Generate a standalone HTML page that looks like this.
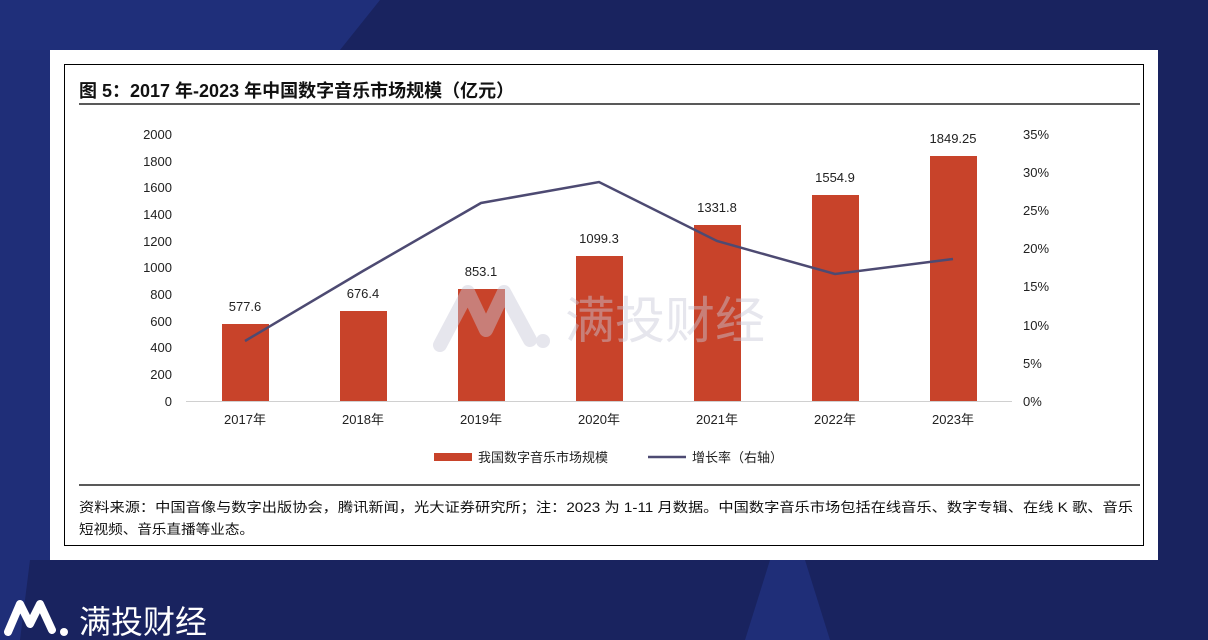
<!DOCTYPE html>
<html><head><meta charset="utf-8"><style>
body{margin:0;width:1208px;height:640px;overflow:hidden;background:#1b2561;font-family:"Liberation Sans","Noto Sans CJK SC",sans-serif;}
</style></head><body>
<svg width="1208" height="640" viewBox="0 0 1208 640" style="position:absolute;left:0;top:0">
<rect width="1208" height="640" fill="#19235f"/>
<polygon points="0,0 380,0 340,50 0,50" fill="#1f2f7a"/>
<polygon points="0,50 50,50 50,560 30,560 20,640 0,640" fill="#1f2e78"/>
<polygon points="770,560 805,560 830,640 745,640" fill="#1f2e78"/>
<rect x="50" y="50" width="1108" height="510" fill="#fff"/>
<rect x="64.5" y="64.5" width="1079" height="481" fill="none" stroke="#000" stroke-width="1"/>
<text x="79" y="97" font-size="18" font-weight="bold" fill="#111">图 5：2017 年-2023 年中国数字音乐市场规模（亿元）</text>
<line x1="79" y1="104" x2="1140" y2="104" stroke="#222" stroke-width="1.5"/>
<line x1="79" y1="485" x2="1140" y2="485" stroke="#222" stroke-width="1.5"/>
<text x="79" y="512" font-size="13.5" fill="#111" textLength="1054" lengthAdjust="spacingAndGlyphs">资料来源：中国音像与数字出版协会，腾讯新闻，光大证券研究所；注：2023 为 1-11 月数据。中国数字音乐市场包括在线音乐、数字专辑、在线 K 歌、音乐</text>
<text x="79" y="534" font-size="13.5" fill="#111" textLength="175" lengthAdjust="spacingAndGlyphs">短视频、音乐直播等业态。</text>
<g font-size="13" fill="#222" text-anchor="end">
<text x="172" y="406">0</text><text x="172" y="379">200</text><text x="172" y="352">400</text><text x="172" y="326">600</text><text x="172" y="299">800</text><text x="172" y="272">1000</text><text x="172" y="246">1200</text><text x="172" y="219">1400</text><text x="172" y="192">1600</text><text x="172" y="166">1800</text><text x="172" y="139">2000</text>
</g>
<g font-size="13" fill="#222" text-anchor="start">
<text x="1023" y="406">0%</text><text x="1023" y="368">5%</text><text x="1023" y="330">10%</text><text x="1023" y="291">15%</text><text x="1023" y="253">20%</text><text x="1023" y="215">25%</text><text x="1023" y="177">30%</text><text x="1023" y="139">35%</text>
</g>
<g fill="#c8432a">
<rect x="222" y="324" width="47" height="77"/>
<rect x="340" y="311" width="47" height="90"/>
<rect x="458" y="289" width="47" height="112"/>
<rect x="576" y="256" width="47" height="145"/>
<rect x="694" y="225" width="47" height="176"/>
<rect x="812" y="195" width="47" height="206"/>
<rect x="930" y="156" width="47" height="245"/>
</g>
<line x1="186" y1="401.5" x2="1012" y2="401.5" stroke="#d0d0d0" stroke-width="1"/>
<g font-size="13" fill="#222" text-anchor="middle">
<text x="245" y="311">577.6</text><text x="363" y="298">676.4</text><text x="481" y="276">853.1</text><text x="599" y="243">1099.3</text><text x="717" y="212">1331.8</text><text x="835" y="182">1554.9</text><text x="953" y="143">1849.25</text>
<text x="245" y="424">2017年</text><text x="363" y="424">2018年</text><text x="481" y="424">2019年</text><text x="599" y="424">2020年</text><text x="717" y="424">2021年</text><text x="835" y="424">2022年</text><text x="953" y="424">2023年</text>
</g>
<polyline points="245,341 363,271 481,203 599,182 717,241 835,274 953,259" fill="none" stroke="#4d4a72" stroke-width="2.5"/>
<g opacity="0.45">
<path d="M440,345 L468,292 L486,330 L504,292 L530,340" fill="none" stroke="#c8c8d8" stroke-width="14" stroke-linejoin="round" stroke-linecap="round"/>
<circle cx="543" cy="341" r="7" fill="#c8c8d8"/>
<text x="565" y="338" font-size="50" fill="#c8c8d8">满投财经</text>
</g>
<rect x="434" y="453" width="38" height="8" fill="#c8432a"/>
<text x="478" y="462" font-size="13" fill="#222">我国数字音乐市场规模</text>
<line x1="648" y1="457" x2="686" y2="457" stroke="#4d4a72" stroke-width="2.5"/>
<text x="692" y="462" font-size="13" fill="#222">增长率（右轴）</text>
<path d="M8,632 L20,604 L30,624 L40,604 L52,630" fill="none" stroke="#fff" stroke-width="8" stroke-linejoin="round" stroke-linecap="round"/>
<circle cx="64" cy="632" r="4" fill="#fff"/>
<text x="79" y="633" font-size="32" fill="#fff" textLength="128" lengthAdjust="spacingAndGlyphs">满投财经</text>
</svg>
</body></html>
